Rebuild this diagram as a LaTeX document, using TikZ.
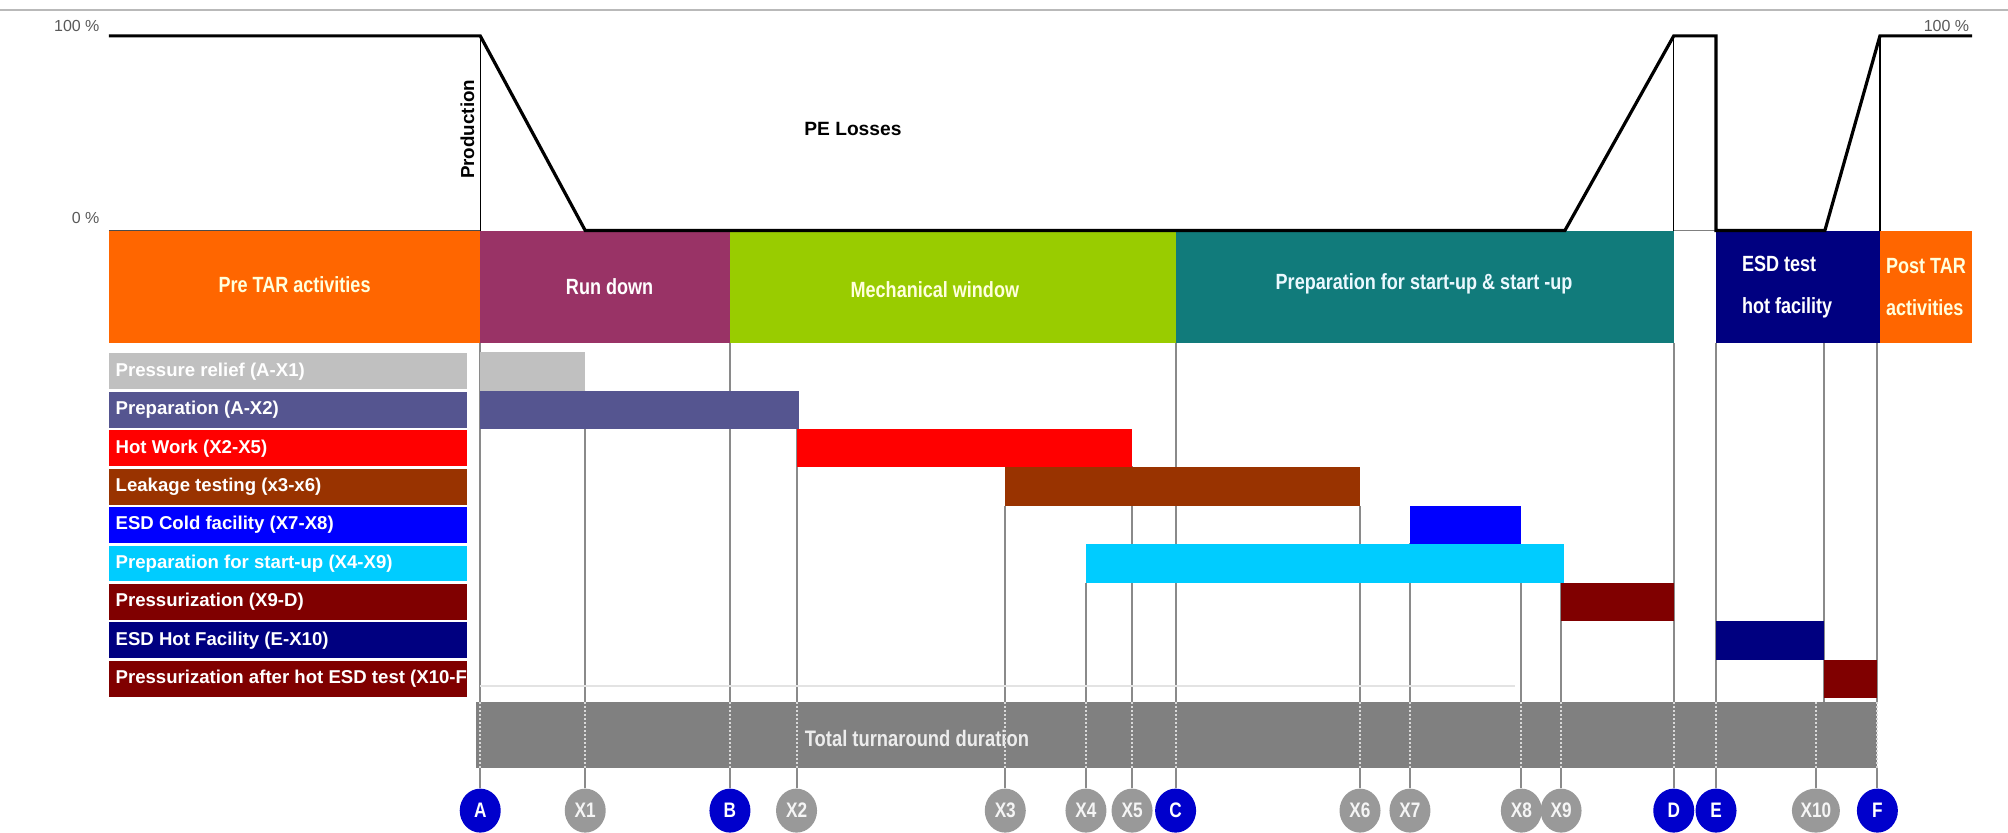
\documentclass[tikz,border=0pt]{standalone}
\usepackage{fontspec}
\setmainfont{Liberation Sans}
\newfontfamily\narrowfont[FakeStretch=0.82]{Liberation Sans}
\usetikzlibrary{shapes.geometric}

\definecolor{tarorange}{HTML}{FF6600}
\definecolor{rundown}{HTML}{993366}
\definecolor{mechgreen}{HTML}{99CC00}
\definecolor{startteal}{HTML}{117B7B}
\definecolor{esdnavy}{HTML}{000080}
\definecolor{relief}{HTML}{C0C0C0}
\definecolor{prepslate}{HTML}{555590}
\definecolor{hotred}{HTML}{FF0000}
\definecolor{leakbrown}{HTML}{993300}
\definecolor{coldblue}{HTML}{0000FF}
\definecolor{startcyan}{HTML}{00CCFF}
\definecolor{pressmaroon}{HTML}{800000}
\definecolor{totalgray}{HTML}{808080}
\definecolor{cmile}{HTML}{0000CC}
\definecolor{cinterim}{HTML}{999999}
\definecolor{gridgray}{HTML}{8A8A8A}
\definecolor{paletext}{HTML}{FFFFDD}

\begin{document}
\begin{tikzpicture}[x=0.6403pt,y=-0.6403pt,
  phasetext/.style={font=\narrowfont\bfseries\fontsize{11}{21}\selectfont, text=paletext, inner sep=0, align=left},
  rowlabel/.style={font=\bfseries\fontsize{9.3}{11}\selectfont, text=white, anchor=west, inner sep=0},
  timeline/.style={draw=gridgray, line width=1pt},
  inbar/.style={draw=gray!30, line width=1pt, densely dotted},
  milestone/.style={ellipse, fill=cmile, minimum width=20.5pt, minimum height=22pt, inner sep=0,
    text=white, font=\narrowfont\bfseries\fontsize{10.5}{10}\selectfont},
  interim/.style={milestone, fill=cinterim, text=white!92!gray},
  wideinterim/.style={interim, minimum width=24pt},
  production/.style={line width=1.6pt, line join=miter},
  thinrule/.style={line width=0.6pt},
  pct/.style={font=\fontsize{8}{9}\selectfont, text=black!65, inner sep=0}]

\useasboundingbox (0,0) rectangle (1568,650);

% ruler along the top edge
\draw[gray!55, line width=0.8pt] (0,8) -- (1568,8);

% vertical time lines below the phase band (drawn first, bars cover them)
\foreach \n/\x/\ytop in {A/375/268, X1/457/305, B/570/268, X2/622/335, X3/785/395,
    X4/848/455, X5/884/364, C/918/268, X6/1062/395, X7/1101/424, X8/1188/455,
    X9/1219/455, D/1307/268, E/1340/268, X10/1424/268, F/1466/268}
  \draw[timeline] (\x,\ytop) -- (\x,548);

\draw[gray!22, line width=1pt] (375,536) -- (1183,536);

% phase band
\fill[tarorange] (85,180) rectangle (375,268);
\node[phasetext] (pre) at (230,222) {Pre TAR activities};
\fill[rundown] (375,180) rectangle (570,268);
\node[phasetext, text=white] (run) at (476,224) {Run down};
\fill[mechgreen] (570,180) rectangle (918,268);
\node[phasetext] (mech) at (730,226) {Mechanical window};
\fill[startteal] (918,180) rectangle (1307,268);
\node[phasetext, text=white!92!cyan] (prep) at (1112,222) {Preparation for start-up \& start -up};
\fill[esdnavy] (1340,180) rectangle (1468,268);
\node[phasetext, text=white, anchor=west] (esd) at (1360,224) {ESD test\\hot facility};
\fill[tarorange] (1468,180) rectangle (1540,268);
\node[phasetext] (post) at (1504,224) {Post TAR\\activities};

% production profile
\draw[thinrule, black!70] (85,180) -- (375,180);
\draw[thinrule, black!50] (1307,180) -- (1340,180);
\draw[thinrule] (375,28) -- (375,180);
\draw[thinrule] (1307,28) -- (1307,180);
\draw[thinrule] (1468,28) -- (1468,180);
\draw[production] (85,28) -- (375,28) -- (457,180) -- (1222,180) -- (1307,28)
  -- (1340,28) -- (1340,180) -- (1425,180) -- (1468,28) -- (1540,28);

\node[pct, anchor=east] (pct100l) at (78,20) {100 \%};
\node[pct, anchor=east] (pct0) at (78,170) {0 \%};
\node[pct, anchor=east] (pct100r) at (1538,20) {100 \%};
\node[font=\bfseries\fontsize{9.4}{10}\selectfont, rotate=90, inner sep=0] (prodlabel) at (365,101) {Production};
\node[font=\bfseries\fontsize{9.6}{10}\selectfont, inner sep=0] (pe) at (666,101) {PE Losses};

% activity rows: label on the left, bar on the time axis
\foreach \c/\t/\s/\e [count=\i from 0] in {
    relief/Pressure relief (A-X1)/375/457,
    prepslate/Preparation (A-X2)/375/624,
    hotred/Hot Work (X2-X5)/622/884,
    leakbrown/Leakage testing (x3-x6)/785/1062,
    coldblue/ESD Cold facility (X7-X8)/1101/1188,
    startcyan/Preparation for start-up (X4-X9)/848/1221,
    pressmaroon/Pressurization (X9-D)/1219/1307,
    esdnavy/ESD Hot Facility (E-X10)/1340/1424,
    pressmaroon/Pressurization after hot ESD test (X10-F)/1424/1466} {
  \pgfmathsetmacro\rowy{275+30*\i}
  \fill[\c] (85,\rowy+1) rectangle (365,\rowy+29);
  \begin{scope}
    \clip (85,\rowy) rectangle (365,\rowy+30);
    \node[rowlabel] (label\i) at (90,\rowy+15) {\t};
  \end{scope}
  \fill[\c] (\s,\rowy) rectangle (\e,\rowy+30);
}

% total duration bar
\fill[totalgray] (372,548) rectangle (1466,600);
\node[font=\narrowfont\bfseries\fontsize{11.2}{12}\selectfont, text=white!85!gray, inner sep=0] (total) at (716,577) {Total turnaround duration};

% milestone markers with their leader lines
\foreach \n/\x/\sty in {A/375/milestone, X1/457/interim, B/570/milestone, X2/622/interim,
    X3/785/interim, X4/848/interim, X5/884/interim, C/918/milestone, X6/1062/interim,
    X7/1101/interim, X8/1188/interim, X9/1219/interim, D/1307/milestone, E/1340/milestone,
    X10/1418/wideinterim, F/1466/milestone} {
  \node[\sty] (m\n) at (\x,633) {\n};
  \draw[inbar] (\x,548) -- (\x,600);
  \draw[timeline] (m\n.north) -- (m\n.north |- 0,600);
}
\end{tikzpicture}
\end{document}
